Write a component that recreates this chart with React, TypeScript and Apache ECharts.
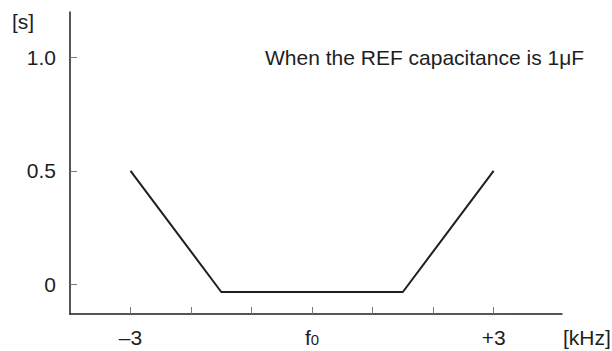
import React, { useEffect, useRef } from "react";
import * as echarts from "echarts";

const xTickValues = [-3, -2, -1, 0, 1, 2, 3];
const xLabelValues = [-3, 0, 3];
const yTickValues = [0, 0.5, 1.0];
const seriesPoints: [number, number][] = [
  [-3, 0.5],
  [-1.5, -0.034],
  [1.5, -0.034],
  [3, 0.5],
];
const annotation = "When the REF capacitance is 1μF";
const yUnit = "[s]";
const xUnit = "[kHz]";

const FONT = "'Liberation Sans', Arial, Helvetica, sans-serif";
const INK = "#1e1e1e";
const FS = 21;

export default function App() {
  const ref = useRef<HTMLDivElement>(null);
  useEffect(() => {
    if (!ref.current) return;
    const chart = echarts.init(ref.current, undefined, { renderer: "svg" });
    chart.setOption({
      animation: false,
      backgroundColor: "#fff",
      textStyle: { fontFamily: FONT },
      grid: { left: 70, right: 50, top: 12, bottom: 37, containLabel: false },
      xAxis: {
        type: "value",
        min: -4,
        max: 4.13,
        axisLine: { show: true, onZero: false, lineStyle: { color: INK, width: 1.5 } },
        axisTick: {
          show: true,
          inside: true,
          length: 7,
          customValues: xTickValues,
          lineStyle: { color: "#777", width: 1 },
        },
        axisLabel: {
          show: true,
          customValues: xLabelValues,
          margin: 13,
          fontSize: FS,
          color: INK,
          fontFamily: FONT,
          formatter: (v: number) => {
            if (v === 0) return "{f|f}{s|0}";
            if (v < 0) return "\u2013" + Math.abs(v);
            return "+" + v;
          },
          rich: {
            f: { fontSize: FS, color: INK, fontFamily: FONT, verticalAlign: "bottom" },
            s: { fontSize: 15, color: INK, fontFamily: FONT, verticalAlign: "bottom", padding: [0, 0, 1, 0] },
          },
        },
        splitLine: { show: false },
      },
      yAxis: {
        type: "value",
        min: -0.131,
        max: 1.2,
        axisLine: { show: true, onZero: false, lineStyle: { color: INK, width: 1.5 } },
        axisTick: {
          show: true,
          inside: true,
          length: 7,
          customValues: yTickValues,
          lineStyle: { color: "#777", width: 1 },
        },
        axisLabel: {
          show: true,
          customValues: yTickValues,
          margin: 14,
          fontSize: FS,
          color: INK,
          fontFamily: FONT,
          formatter: (v: number) => (v === 0 ? "0" : v.toFixed(1)),
        },
        splitLine: { show: false },
      },
      series: [
        {
          type: "line",
          data: seriesPoints,
          symbol: "none",
          lineStyle: { color: INK, width: 2 },
        },
      ],
      graphic: [
        {
          type: "text",
          left: 265,
          top: 47,
          style: { text: annotation, fontSize: FS, fill: INK, fontFamily: FONT },
        },
        {
          type: "text",
          left: 12,
          top: 11,
          style: { text: yUnit, fontSize: FS, fill: INK, fontFamily: FONT },
        },
        {
          type: "text",
          left: 563,
          top: 327,
          style: { text: xUnit, fontSize: FS, fill: INK, fontFamily: FONT },
        },
      ],
    });
    return () => chart.dispose();
  }, []);
  return (
    <div
      ref={ref}
      style={{ position: "fixed", left: 0, top: 0, width: 612, height: 351 }}
    />
  );
}
